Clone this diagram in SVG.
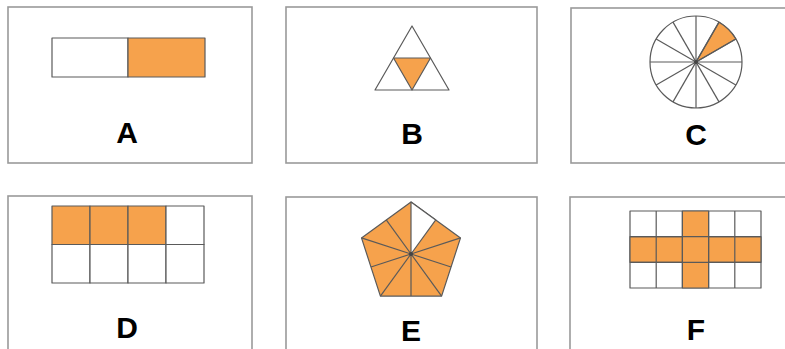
<svg xmlns="http://www.w3.org/2000/svg" width="785" height="349" viewBox="0 0 785 349">
<style>
.panel{fill:#fff;stroke:#9a9a9a;stroke-width:1.6}
.s{stroke:#5a5a5a;stroke-width:1.2;stroke-linejoin:round}
.w{fill:#fff}
.o{fill:#F6A24C}
.lbl{font-family:"Liberation Sans",Arial,sans-serif;font-weight:bold;font-size:30px;fill:#000;text-anchor:middle}
</style>
<rect width="785" height="349" fill="#fff"/>
<g id="A">
<rect class="panel" x="8" y="7" width="244" height="156"/>
<rect class="s w" x="52" y="38" width="76" height="39"/>
<rect class="s o" x="128" y="38" width="77" height="39"/>
<text class="lbl" x="127" y="143">A</text>
</g>
<g id="B">
<rect class="panel" x="286" y="7" width="251" height="156"/>
<polygon class="s w" points="412,26 375,90 449,90"/>
<polygon class="s o" points="393.5,58 430.5,58 412,90"/>
<text class="lbl" x="412" y="144">B</text>
</g>
<g id="C">
<rect class="panel" x="571" y="8" width="230" height="155"/>
<circle class="s w" cx="696" cy="62" r="46"/>
<path class="s o" d="M696,62 L735.84,39 A46,46 0 0 0 719,22.16 Z"/>
<g class="s" fill="none">
<line x1="650" y1="62" x2="742" y2="62"/>
<line x1="656.16" y1="85" x2="735.84" y2="39"/>
<line x1="673" y1="101.84" x2="719" y2="22.16"/>
<line x1="696" y1="108" x2="696" y2="16"/>
<line x1="719" y1="101.84" x2="673" y2="22.16"/>
<line x1="735.84" y1="85" x2="656.16" y2="39"/>
</g>
<circle cx="696" cy="62" r="2" fill="#444"/>
<text class="lbl" x="696" y="145">C</text>
</g>
<g id="D">
<rect class="panel" x="8" y="196" width="244" height="170"/>
<rect class="s o" x="52" y="206" width="38" height="38.5"/>
<rect class="s o" x="90" y="206" width="38" height="38.5"/>
<rect class="s o" x="128" y="206" width="38" height="38.5"/>
<rect class="s w" x="166" y="206" width="38" height="38.5"/>
<rect class="s w" x="52" y="244.5" width="38" height="38.5"/>
<rect class="s w" x="90" y="244.5" width="38" height="38.5"/>
<rect class="s w" x="128" y="244.5" width="38" height="38.5"/>
<rect class="s w" x="166" y="244.5" width="38" height="38.5"/>
<text class="lbl" x="127" y="338">D</text>
</g>
<g id="E">
<rect class="panel" x="286" y="197" width="251" height="170"/>
<polygon class="s o" points="411,202 460.5,237.9 441.6,296.1 380.4,296.1 361.5,237.9"/>
<polygon class="s w" points="411,254 411,202 435.75,219.95"/>
<g class="s" fill="none">
<line x1="411" y1="254" x2="460.5" y2="237.9"/>
<line x1="411" y1="254" x2="441.6" y2="296.1"/>
<line x1="411" y1="254" x2="380.4" y2="296.1"/>
<line x1="411" y1="254" x2="361.5" y2="237.9"/>
<line x1="411" y1="254" x2="451.05" y2="267"/>
<line x1="411" y1="254" x2="411" y2="296.1"/>
<line x1="411" y1="254" x2="370.95" y2="267"/>
<line x1="411" y1="254" x2="386.25" y2="219.95"/>
</g>
<circle cx="411" cy="254" r="2" fill="#444"/>
<text class="lbl" x="411" y="341">E</text>
</g>
<g id="F">
<rect class="panel" x="570" y="197" width="230" height="170"/>
<rect class="s w" x="630" y="211" width="131" height="77"/>
<rect class="s o" x="630" y="236.7" width="131" height="25.6"/>
<rect class="s o" x="682.4" y="211" width="26.2" height="77"/>
<g class="s" fill="none">
<line x1="656.2" y1="211" x2="656.2" y2="288"/>
<line x1="682.4" y1="211" x2="682.4" y2="288"/>
<line x1="708.6" y1="211" x2="708.6" y2="288"/>
<line x1="734.8" y1="211" x2="734.8" y2="288"/>
<line x1="630" y1="236.7" x2="761" y2="236.7"/>
<line x1="630" y1="262.3" x2="761" y2="262.3"/>
</g>
<text class="lbl" x="696" y="340">F</text>
</g>
</svg>
